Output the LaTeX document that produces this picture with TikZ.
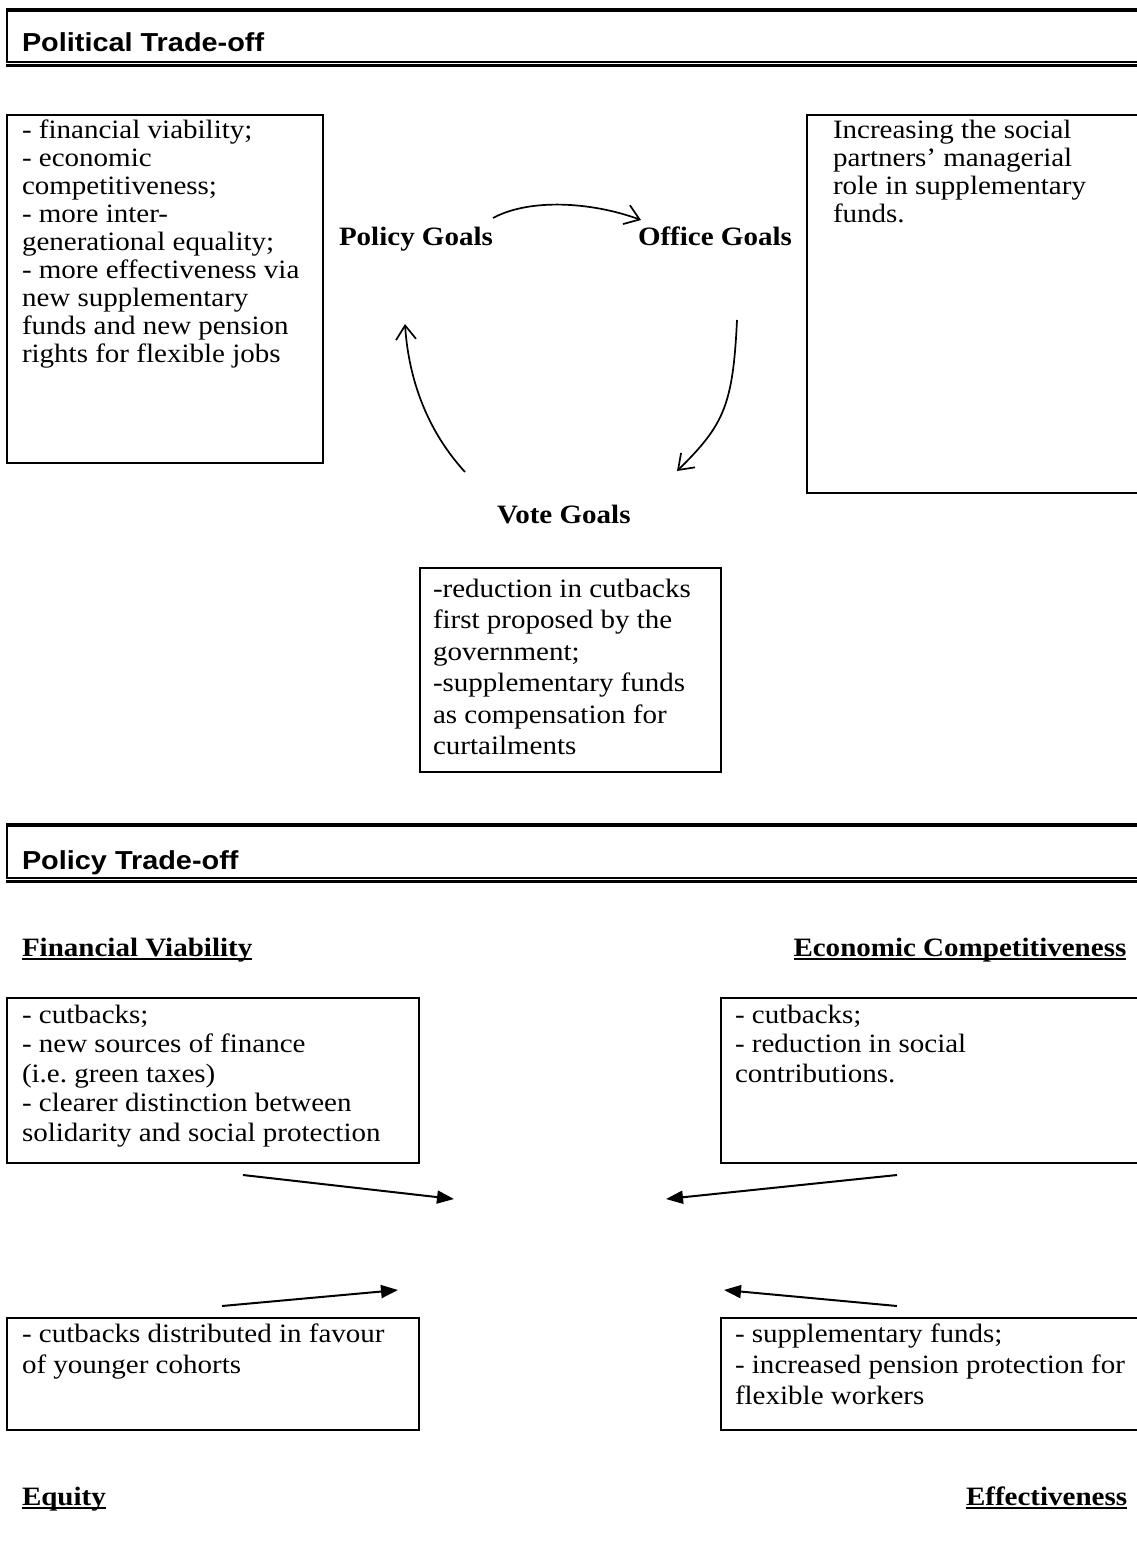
\documentclass[tikz,border=0pt]{standalone}
\usepackage{fontspec}
\setmainfont[FakeStretch=1.095]{Liberation Serif}
\newfontfamily\headfont[FakeStretch=1.11]{Liberation Sans}
\usetikzlibrary{arrows.meta}
\newcommand\firstrow{\rule{0pt}{19pt}}
\frenchspacing
\begin{document}
\begin{tikzpicture}[x=1pt,y=-1pt,
  frame/.style={draw=black, line width=2pt, inner sep=0pt, outer sep=0pt, anchor=north west},
  body/.style={inner sep=0pt, outer sep=0pt, anchor=north west, align=left},
  goal/.style={inner sep=0pt, outer sep=0pt, anchor=base west, font=\fontsize{26.5}{30}\selectfont\bfseries},
  heading/.style={inner sep=0pt, outer sep=0pt, anchor=base west, font=\headfont\fontsize{26}{28}\selectfont\bfseries},
  bar/.style={line width=#1, line cap=butt},
  openarrow/.style={line width=1.7pt, -{Straight Barb[length=14pt,width=20pt,line width=1.7pt]}},
  solidarrow/.style={line width=2pt, -{Triangle[length=17pt,width=13pt]}},
  underl/.style={line width=1.6pt}
]
\useasboundingbox (0,0) rectangle (1136,1553);
\fill[white] (0,0) rectangle (1136,1553);

% ---------- section heading: political trade-off ----------
\draw[bar=4pt] (6,10) -- (1140,10);
\draw[bar=2pt] (7,8) -- (7,62);
\draw[bar=1.6pt] (6,62) -- (1140,62);
\draw[bar=2.4pt] (6,65.5) -- (1140,65.5);
\node[heading] (polhead) at (22,51) {Political Trade-off};

% ---------- goal boxes ----------
\node[frame, minimum width=316pt, minimum height=348pt] (policybox) at (7,115) {};
\node[body, font=\fontsize{26.5}{28}\selectfont] (policytext) at (22,119) {\firstrow- financial viability;\\
- economic\\
competitiveness;\\
- more inter-\\
generational equality;\\
- more effectiveness via\\
new supplementary\\
funds and new pension\\
rights for flexible jobs};

\node[frame, minimum width=340pt, minimum height=378pt] (officebox) at (807,115) {};
\node[body, font=\fontsize{26.5}{28}\selectfont] (officetext) at (833,119) {\firstrow Increasing the social\\
partners’ managerial\\
role in supplementary\\
funds.};

\node[goal] (policy) at (339,245) {Policy Goals};
\node[goal] (office) at (638,245) {Office Goals};
\node[goal] (vote) at (497,523) {Vote Goals};

\node[frame, minimum width=301pt, minimum height=204pt] (votebox) at (420,568) {};
\node[body, font=\fontsize{26.5}{31.5}\selectfont] (votetext) at (433,578) {\firstrow -reduction in cutbacks\\
first proposed by the\\
government;\\
-supplementary funds\\
as compensation for\\
curtailments};

% ---------- cycle of goals ----------
\coordinate (po-start) at (493,218);
\coordinate (po-end) at (641,220);
\coordinate (ov-start) at (737,320);
\coordinate (ov-end) at (677,471);
\coordinate (vp-start) at (465,472);
\coordinate (vp-end) at (405,324);
\draw[openarrow] (po-start) .. controls (530,198) and (592,202) .. (po-end);
\draw[openarrow] (ov-start) .. controls (733,405) and (724,425) .. (ov-end);
\draw[openarrow] (vp-start) .. controls (422,425) and (408,370) .. (vp-end);

% ---------- section heading: policy trade-off ----------
\draw[bar=3.5pt] (6,825) -- (1140,825);
\draw[bar=2pt] (7,823) -- (7,878);
\draw[bar=1.6pt] (6,878) -- (1140,878);
\draw[bar=2.4pt] (6,881.5) -- (1140,881.5);
\node[heading] (pthead) at (22,869) {Policy Trade-off};

% ---------- four criteria ----------
\node[goal] (fin) at (22,956) {Financial Viability};
\node[goal] (eco) at (793.5,956) {Economic Competitiveness};
\node[goal] (equ) at (22,1505) {Equity};
\node[goal] (eff) at (966,1505) {Effectiveness};
\foreach \n in {fin,eco,equ,eff}
  \draw[underl] ([yshift=-3pt]\n.base west) -- ([yshift=-3pt]\n.base east);

\node[frame, minimum width=412pt, minimum height=165pt] (finbox) at (7,998) {};
\node[body, font=\fontsize{26.5}{29.6}\selectfont] (fintext) at (22,1004) {\firstrow - cutbacks;\\
- new sources of finance\\
(i.e. green taxes)\\
- clearer distinction between\\
solidarity and social protection};

\node[frame, minimum width=420pt, minimum height=165pt] (ecobox) at (721,998) {};
\node[body, font=\fontsize{26.5}{29.6}\selectfont] (ecotext) at (735,1004) {\firstrow - cutbacks;\\
- reduction in social\\
contributions.};

\node[frame, minimum width=412pt, minimum height=112pt] (equbox) at (7,1318) {};
\node[body, font=\fontsize{26.5}{31}\selectfont] (equtext) at (22,1323) {\firstrow - cutbacks distributed in favour\\
of younger cohorts};

\node[frame, minimum width=420pt, minimum height=112pt] (effbox) at (721,1318) {};
\node[body, font=\fontsize{26.5}{31}\selectfont] (efftext) at (735,1323) {\firstrow - supplementary funds;\\
- increased pension protection for\\
flexible workers};

% ---------- converging arrows ----------
\coordinate (fin-from) at (243,1175);
\coordinate (fin-to) at (454,1199);
\coordinate (eco-from) at (897,1175);
\coordinate (eco-to) at (666,1199);
\coordinate (equ-from) at (222,1306);
\coordinate (equ-to) at (398,1290);
\coordinate (eff-from) at (897,1306);
\coordinate (eff-to) at (724,1290);
\draw[solidarrow] (fin-from) -- (fin-to);
\draw[solidarrow] (eco-from) -- (eco-to);
\draw[solidarrow] (equ-from) -- (equ-to);
\draw[solidarrow] (eff-from) -- (eff-to);
\end{tikzpicture}
\end{document}
